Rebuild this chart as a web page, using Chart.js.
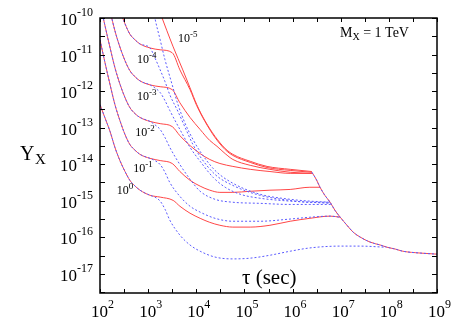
<!DOCTYPE html>
<html>
<head>
<meta charset="utf-8">
<script src="https://cdn.jsdelivr.net/npm/chart.js@4.4.1/dist/chart.umd.min.js"></script>
<style>
  html, body { margin: 0; padding: 0; background: #fff; }
  #wrap { width: 463px; height: 324px; }
</style>
</head>
<body>
<div id="wrap"><canvas id="yxChart" width="463" height="324"></canvas></div>
<script>
// everything as log10(tau / sec) and log10(Y_X)
const tauTicks = [2, 3, 4, 5, 6, 7, 8, 9];
const yTicks = [-10, -11, -12, -13, -14, -15, -16, -17];

const curveExps = ['-5', '-4', '-3', '-2', '-1', '0'];
const labelTau = [3.62, 2.77, 2.77, 2.73, 2.69, 2.35];
const labelY = [-10.65, -11.23, -12.23, -13.24, -14.2, -14.82];

// B = 10^0
const tauRed0 = [2.00, 2.10, 2.21, 2.31, 2.42, 2.52, 2.62, 2.73, 2.83, 3.04, 3.25, 3.52, 3.66, 3.87, 4.08, 4.28, 4.49, 4.76, 5.12, 5.53, 5.95, 6.36, 6.78, 6.99];
const yRed0 = [-12.37, -12.72, -13.11, -13.54, -13.92, -14.20, -14.44, -14.60, -14.71, -14.85, -14.90, -14.99, -15.15, -15.34, -15.48, -15.59, -15.67, -15.72, -15.72, -15.67, -15.56, -15.48, -15.42, -15.45];
const tauBlue0 = [3.14, 3.25, 3.35, 3.45, 3.66, 3.87, 4.08, 4.39, 4.76, 5.12, 5.53, 5.95, 6.36, 6.99, 7.40, 7.92];
const yBlue0 = [-14.90, -15.01, -15.23, -15.53, -15.94, -16.21, -16.38, -16.54, -16.59, -16.57, -16.49, -16.38, -16.29, -16.24, -16.24, -16.27];

// B = 10^-1
const tauRed1 = [2.00, 2.10, 2.21, 2.31, 2.42, 2.52, 2.62, 2.73, 2.83, 3.04, 3.25, 3.50, 3.66, 3.87, 4.08, 4.28, 4.49, 4.76, 5.12, 5.53, 5.95, 6.36, 6.57];
const yRed1 = [-10.60, -11.20, -11.83, -12.37, -12.83, -13.19, -13.46, -13.62, -13.73, -13.84, -13.90, -13.98, -14.20, -14.44, -14.60, -14.71, -14.77, -14.77, -14.74, -14.71, -14.69, -14.63, -14.63];
const tauBlue1 = [3.14, 3.25, 3.35, 3.45, 3.66, 3.87, 4.08, 4.39, 4.76, 5.32, 5.95, 6.36, 6.78, 6.99];
const yBlue1 = [-13.90, -14.01, -14.22, -14.50, -14.88, -15.15, -15.31, -15.48, -15.56, -15.56, -15.50, -15.45, -15.42, -15.45];

// B = 10^-2
const tauRed2 = [2.00, 2.10, 2.21, 2.31, 2.42, 2.52, 2.62, 2.73, 2.83, 3.04, 3.25, 3.50, 3.66, 3.87, 4.08, 4.28, 4.49, 4.76, 5.12, 5.53, 5.95, 6.40];
const yRed2 = [-9.59, -10.19, -10.82, -11.36, -11.83, -12.18, -12.45, -12.62, -12.72, -12.83, -12.89, -12.97, -13.22, -13.49, -13.71, -13.87, -13.98, -14.06, -14.14, -14.20, -14.25, -14.25];
const tauBlue2 = [3.14, 3.25, 3.35, 3.45, 3.66, 3.87, 4.08, 4.39, 4.76, 5.32, 5.95, 6.36, 6.80];
const yBlue2 = [-12.92, -13.05, -13.27, -13.54, -14.01, -14.41, -14.74, -14.96, -15.04, -15.07, -15.10, -15.10, -15.10];

// B = 10^-3
const tauRed3 = [2.10, 2.21, 2.31, 2.42, 2.52, 2.62, 2.73, 2.83, 3.04, 3.25, 3.50, 3.66, 3.87, 4.08, 4.28, 4.43, 4.60, 4.76, 5.12, 5.53, 5.95, 6.40];
const yRed3 = [-9.18, -9.81, -10.35, -10.82, -11.17, -11.44, -11.61, -11.72, -11.83, -11.88, -11.96, -12.32, -12.72, -13.05, -13.35, -13.51, -13.71, -13.87, -14.03, -14.14, -14.22, -14.25];
const tauBlue3 = [3.14, 3.25, 3.35, 3.45, 3.66, 3.87, 4.08, 4.35, 4.60, 4.91, 5.32, 5.95, 6.36, 6.78];
const yBlue3 = [-11.91, -12.04, -12.26, -12.53, -13.05, -13.54, -13.92, -14.36, -14.63, -14.82, -14.93, -15.01, -15.04, -15.07];

// B = 10^-4
const tauRed4 = [2.21, 2.31, 2.42, 2.52, 2.62, 2.73, 2.83, 3.04, 3.25, 3.50, 3.66, 3.87, 4.01, 4.18, 4.39, 4.60, 4.76, 5.12, 5.47, 5.95, 6.40];
const yRed4 = [-8.80, -9.35, -9.81, -10.16, -10.44, -10.60, -10.71, -10.82, -10.87, -10.95, -11.42, -11.96, -12.40, -12.83, -13.27, -13.60, -13.76, -13.95, -14.09, -14.17, -14.22];
const tauBlue4 = [3.14, 3.25, 3.35, 3.45, 3.62, 3.77, 3.93, 4.08, 4.39, 4.76, 5.32, 5.95, 6.36, 6.78];
const yBlue4 = [-11.09, -11.42, -11.74, -12.10, -12.56, -13.00, -13.46, -13.79, -14.28, -14.58, -14.85, -14.99, -15.04, -15.04];

// B = 10^-5
const tauRed5 = [3.04, 3.20, 3.29, 3.39, 3.52, 3.72, 3.87, 4.01, 4.18, 4.39, 4.60, 4.76, 5.12, 5.47, 5.95, 6.40];
const yRed5 = [-8.96, -9.67, -10.00, -10.35, -10.79, -11.42, -11.91, -12.37, -12.81, -13.24, -13.57, -13.73, -13.92, -14.06, -14.14, -14.20];
const tauBlue5 = [3.00, 3.14, 3.25, 3.35, 3.50, 3.62, 3.77, 3.93, 4.08, 4.39, 4.76, 5.32, 5.95, 6.36, 6.78];
const yBlue5 = [-8.96, -10.00, -10.60, -11.14, -11.83, -12.37, -12.89, -13.32, -13.65, -14.17, -14.52, -14.82, -14.96, -15.01, -15.04];

// common late-time part, same for every B
const tauTail = [6.40, 6.49, 6.57, 6.67, 6.78, 6.88, 6.99, 7.13, 7.26, 7.40, 7.61, 7.82, 7.96, 8.13, 8.29, 8.65, 9.00];
const yTail = [-14.22, -14.41, -14.63, -14.85, -15.04, -15.26, -15.45, -15.67, -15.86, -15.99, -16.13, -16.21, -16.27, -16.32, -16.38, -16.43, -16.46];

const RED = 'rgb(255,70,70)';
const BLUE = 'rgb(90,90,255)';

const toPoints = (taus, ys) => taus.map((t, i) => ({ x: Math.pow(10, t), y: Math.pow(10, ys[i]) }));

// blue dotted curves sit on top of the red ones until they split off
const reds = [[tauRed0, yRed0], [tauRed1, yRed1], [tauRed2, yRed2], [tauRed3, yRed3], [tauRed4, yRed4], [tauRed5, yRed5]];
const blues = [[tauBlue0, yBlue0], [tauBlue1, yBlue1], [tauBlue2, yBlue2], [tauBlue3, yBlue3], [tauBlue4, yBlue4], [tauBlue5, yBlue5]];
const sharedCount = [10, 10, 10, 9, 8, 0];

const lineStyle = (color, dashed) => ({
    borderColor: color,
    borderWidth: 1,
    borderDash: dashed ? [2, 2] : [],
    pointRadius: 0,
    fill: false,
    cubicInterpolationMode: 'monotone',
});

const datasets = [];
blues.forEach(([t, y], i) => {
    const n = sharedCount[i];
    const taus = reds[i][0].slice(0, n).concat(t);
    const ys = reds[i][1].slice(0, n).concat(y);
    datasets.push({ label: 'blue ' + i, data: toPoints(taus, ys), ...lineStyle(BLUE, true) });
});
datasets.push({ label: 'blue tail', data: toPoints(tauTail, yTail), ...lineStyle(BLUE, true) });
reds.forEach(([t, y], i) => {
    datasets.push({ label: 'red ' + i, data: toPoints(t, y), ...lineStyle(RED, false) });
});
datasets.push({ label: 'red tail', data: toPoints(tauTail, yTail), ...lineStyle(RED, false) });

const SERIF = '"Liberation Serif", "Times New Roman", serif';

// draws "10" with a raised exponent; x is where "10" starts
function drawPower(ctx, x, y, exp, size, supSize, supRaise) {
    ctx.font = size + 'px ' + SERIF;
    ctx.textAlign = 'left';
    ctx.textBaseline = 'alphabetic';
    ctx.fillText('10', x, y);
    const w = ctx.measureText('10').width;
    ctx.font = supSize + 'px ' + SERIF;
    ctx.fillText(exp, x + w, y - supRaise);
    return w;
}

const framePlugin = {
    id: 'frame',
    afterDraw(chart) {
        const { ctx, chartArea: a, scales } = chart;
        const xs = scales.x, ys = scales.y;
        ctx.save();
        ctx.fillStyle = '#000';
        ctx.strokeStyle = '#000';

        // ticks every half decade, pointing inward on all four sides
        ctx.lineWidth = 1;
        ctx.beginPath();
        for (let e = 2; e <= 9; e += 0.5) {
            const px = Math.round(xs.getPixelForValue(Math.pow(10, e))) + 0.5;
            ctx.moveTo(px, a.bottom); ctx.lineTo(px, a.bottom - 4);
            ctx.moveTo(px, a.top); ctx.lineTo(px, a.top + 4);
        }
        for (let e = -17.5; e <= -10; e += 0.5) {
            const py = Math.round(ys.getPixelForValue(Math.pow(10, e))) + 0.5;
            ctx.moveTo(a.left, py); ctx.lineTo(a.left + 5, py);
            ctx.moveTo(a.right, py); ctx.lineTo(a.right - 5, py);
        }
        ctx.stroke();

        ctx.lineWidth = 1.5;
        ctx.strokeRect(a.left, a.top, a.right - a.left, a.bottom - a.top);

        // tick labels
        tauTicks.forEach(e => {
            const px = xs.getPixelForValue(Math.pow(10, e));
            drawPower(ctx, px - 9, a.bottom + 24, String(e), 17, 12, 9);
        });
        yTicks.forEach(e => {
            const py = ys.getPixelForValue(Math.pow(10, e));
            drawPower(ctx, a.left - 40, py + 7, String(e), 17, 12, 9);
        });

        // curve labels
        curveExps.forEach((e, i) => {
            const px = xs.getPixelForValue(Math.pow(10, labelTau[i]));
            const py = ys.getPixelForValue(Math.pow(10, labelY[i]));
            drawPower(ctx, px, py, e, 12, 9, 5);
        });

        // axis titles
        ctx.textAlign = 'left';
        ctx.font = '20px ' + SERIF;
        ctx.fillText('Y', 20, 160);
        ctx.font = '15px ' + SERIF;
        ctx.fillText('X', 35, 164);

        ctx.font = '21px ' + SERIF;
        ctx.fillText('\u03c4 (sec)', 242, 284);

        ctx.font = '14px ' + SERIF;
        ctx.fillText('M', 340, 37);
        const mw = ctx.measureText('M').width;
        ctx.font = '10px ' + SERIF;
        ctx.fillText('X', 340 + mw, 40);
        const xw = ctx.measureText('X').width;
        ctx.font = '14px ' + SERIF;
        ctx.fillText(' = 1 TeV', 340 + mw + xw, 37);

        ctx.restore();
    }
};

new Chart(document.getElementById('yxChart'), {
    type: 'line',
    data: { datasets },
    options: {
        responsive: false,
        animation: false,
        layout: { padding: { left: 100, top: 18, right: 26, bottom: 31 } },
        plugins: { legend: { display: false }, tooltip: { enabled: false } },
        scales: {
            x: { type: 'logarithmic', min: 1e2, max: 1e9, display: false },
            y: { type: 'logarithmic', min: Math.pow(10, -17.5), max: 1e-10, display: false },
        },
    },
    plugins: [framePlugin],
});
</script>
</body>
</html>
